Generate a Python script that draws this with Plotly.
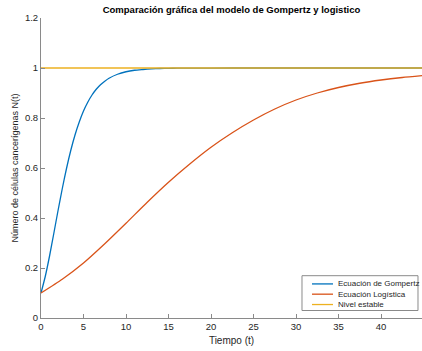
import plotly.graph_objects as go

# Values
t_gompertz = [0, 0.5, 1, 1.5, 2, 2.5, 3, 3.5, 4, 4.5, 5, 5.5, 6, 6.5, 7, 7.5, 8, 9, 10, 11, 12,
              13, 14, 15, 16, 18, 20, 25, 30, 35, 40, 45]
n_gompertz = [0.100, 0.166, 0.247, 0.337, 0.429, 0.517, 0.598, 0.670, 0.732, 0.784, 0.828,
              0.863, 0.892, 0.915, 0.933, 0.947, 0.959, 0.975, 0.985, 0.991, 0.994,
              0.9965, 0.998, 0.9987, 0.9992, 0.9997, 0.9999, 1.0, 1.0, 1.0, 1.0, 1.0]

t_logistic = [0, 2.5, 5, 7.5, 10, 12.5, 15, 17.5, 20, 22.5, 25, 27.5, 30, 32.5, 35, 37.5,
              40, 42.5, 45]
n_logistic = [0.100, 0.155, 0.220, 0.297, 0.379, 0.463, 0.543, 0.616, 0.683, 0.741, 0.792,
              0.836, 0.872, 0.900, 0.922, 0.939, 0.952, 0.962, 0.970]

t_stable = [0, 45]
n_stable = [1, 1]

x_ticks = [0, 5, 10, 15, 20, 25, 30, 35, 40, 45]
y_ticks = [0, 0.2, 0.4, 0.6, 0.8, 1, 1.2]

names = ["Ecuación de Gompertz", "Ecuación Logística", "Nivel estable"]
colors = ["#0072BD", "#D95319", "#EDB120"]

FONT = "Liberation Sans, Arial, sans-serif"
TXT = "#262626"
AX = "#8a8a8a"

fig = go.Figure()
fig.add_trace(go.Scatter(x=t_gompertz, y=n_gompertz, mode="lines", name=names[0],
                         line=dict(color=colors[0], width=1.3, shape="spline", smoothing=0.6)))
fig.add_trace(go.Scatter(x=t_logistic, y=n_logistic, mode="lines", name=names[1],
                         line=dict(color=colors[1], width=1.3, shape="spline", smoothing=0.6)))
fig.add_trace(go.Scatter(x=t_stable, y=n_stable, mode="lines", name=names[2],
                         line=dict(color=colors[2], width=1.5)))

# Compact MATLAB-style legend box (paper coordinates)
leg_x0, leg_x1, leg_y0, leg_y1 = 0.685, 0.9895, 0.025, 0.141
row_y = [0.1136, 0.0794, 0.0449]
sample_x0, sample_x1, text_x = 0.7113, 0.7664, 0.773

shapes = [dict(type="rect", xref="paper", yref="paper", x0=leg_x0, x1=leg_x1, y0=leg_y0, y1=leg_y1,
               line=dict(color=AX, width=1), fillcolor="white", layer="above")]
annotations = []
for nm, col, ry in zip(names, colors, row_y):
    shapes.append(dict(type="line", xref="paper", yref="paper", x0=sample_x0, x1=sample_x1,
                       y0=ry, y1=ry, line=dict(color=col, width=1.3), layer="above"))
    annotations.append(dict(text=nm, xref="paper", yref="paper", x=text_x, y=ry,
                            xanchor="left", yanchor="middle", showarrow=False,
                            font=dict(size=8, color=TXT, family=FONT)))

fig.update_layout(
    width=422, height=351,
    margin=dict(l=41, r=0, t=17.5, b=32.5, autoexpand=False),
    paper_bgcolor="white", plot_bgcolor="white",
    font=dict(family=FONT, size=9.5, color=TXT),
    title=dict(text="<b>Comparación gráfica del modelo de Gompertz y logistico</b>",
               x=0.5, xref="paper", xanchor="center", y=0.972, yref="container",
               yanchor="middle", font=dict(size=9.5, color="#000000")),
    showlegend=False,
    shapes=shapes,
    annotations=annotations,
)
fig.update_xaxes(range=[0, 44.82], tickvals=x_ticks, ticks="inside", ticklen=4,
                 tickcolor=AX, showline=True, linecolor=AX, linewidth=1,
                 showgrid=False, zeroline=False, mirror=False, automargin=False,
                 title=dict(text="Tiempo (t)", font=dict(size=10), standoff=5),
                 tickfont=dict(size=9.5, color=TXT))
fig.update_yaxes(range=[0, 1.2], tickvals=y_ticks, ticks="inside", ticklen=4,
                 tickcolor=AX, showline=True, linecolor=AX, linewidth=1,
                 showgrid=False, zeroline=False, mirror=False, automargin=False,
                 title=dict(text="Número de células cancerígenas N(t)", font=dict(size=9), standoff=4),
                 tickfont=dict(size=9.5, color=TXT))

fig.write_html("out.html")
